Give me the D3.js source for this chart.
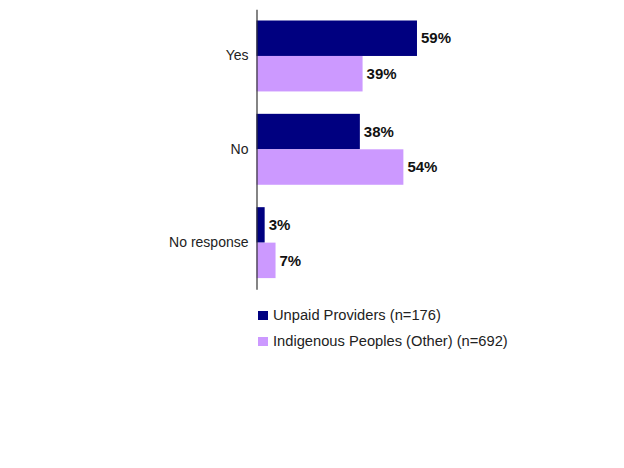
<!DOCTYPE html>
<html>
<head>
<meta charset="utf-8">
<script src="https://cdn.jsdelivr.net/npm/d3@7"></script>
<style>
body { margin: 0; background: #fff; }
svg { display: block; }
</style>
</head>
<body>
<svg id="chart" width="624" height="468"></svg>
<script>
const categories = ["Yes", "No", "No response"];
const seriesNames = ["Unpaid Providers (n=176)", "Indigenous Peoples (Other) (n=692)"];
const unpaidProviders = [59, 38, 3];
const indigenousOther = [39, 54, 7];
const seriesValues = [unpaidProviders, indigenousOther];
const colors = ["#000080", "#cc99ff"];

const svg = d3.select("#chart");
const font = "'Liberation Sans', Arial, sans-serif";

const x = d3.scaleLinear().domain([0, 100]).range([256.5, 528.5]);
const y = d3.scaleBand().domain(categories).range([9.3, 289.3])
  .paddingInner(0.24).paddingOuter(0.12);
const sub = d3.scaleBand().domain(d3.range(seriesNames.length)).range([0, y.bandwidth()]);

const data = [];
categories.forEach((c, i) => {
  seriesValues.forEach((s, j) => data.push({ cat: c, s: j, v: s[i] }));
});

svg.selectAll("rect.bar").data(data).join("rect")
  .attr("class", "bar")
  .attr("x", x(0))
  .attr("y", d => y(d.cat) + sub(d.s))
  .attr("width", d => x(d.v) - x(0))
  .attr("height", sub.bandwidth())
  .attr("fill", d => colors[d.s]);

svg.selectAll("text.val").data(data).join("text")
  .attr("class", "val")
  .attr("x", d => x(d.v) + 4)
  .attr("y", d => y(d.cat) + sub(d.s) + sub.bandwidth() / 2)
  .attr("dy", "0.35em")
  .attr("font-family", font)
  .attr("font-size", 15)
  .attr("font-weight", "bold")
  .attr("fill", "#111")
  .text(d => d.v + "%");

const axis = d3.axisLeft(y).tickSize(0).tickPadding(8);
const g = svg.append("g").attr("transform", `translate(${x(0)},0)`).call(axis);
g.select(".domain").attr("stroke", "#333").attr("stroke-width", 1.2);
g.selectAll("text").attr("font-family", font).attr("font-size", 14).attr("fill", "#222");

const legend = svg.append("g").selectAll("g").data(seriesNames).join("g")
  .attr("transform", (d, i) => `translate(258,${311 + i * 26})`);
legend.append("rect").attr("width", 10).attr("height", 9).attr("fill", (d, i) => colors[i]);
legend.append("text").attr("x", 15).attr("y", 9)
  .attr("font-family", font).attr("font-size", 14.7).attr("fill", "#222")
  .text(d => d);
</script>
</body>
</html>
